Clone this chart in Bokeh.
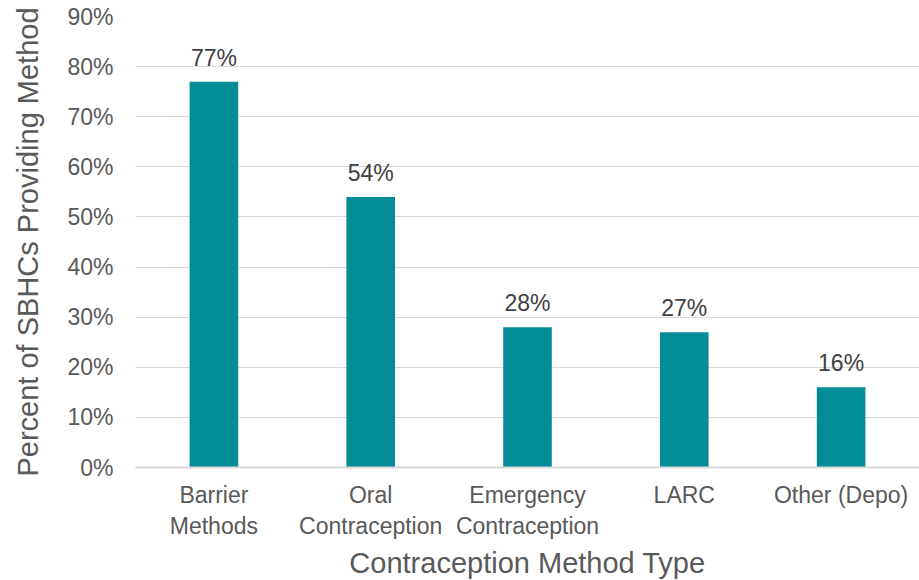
from bokeh.plotting import figure
from bokeh.models import ColumnDataSource, LabelSet, FixedTicker
from bokeh.core.properties import value
from bokeh.embed import file_html
from bokeh.resources import INLINE

categories = ["Barrier\nMethods", "Oral\nContraception", "Emergency\nContraception", "LARC", "Other (Depo)"]
values = [77, 54, 28, 27, 16]
labels = ["77%", "54%", "28%", "27%", "16%"]
y_ticks = [0, 10, 20, 30, 40, 50, 60, 70, 80, 90]

FONT = "Liberation Sans"
BAR = "#028C96"
GRID = "#D9D9D9"
TXT = "#595959"

source = ColumnDataSource(dict(cat=categories, val=values, lab=labels))

p = figure(x_range=categories, y_range=(0, 90), frame_width=784, frame_height=451,
           output_backend="svg", toolbar_location=None,
           min_border_left=135, min_border_right=0, min_border_top=16, min_border_bottom=112)

p.vbar(x="cat", top="val", width=0.31, source=source, color=BAR, line_color=None)

lbl = LabelSet(x="cat", y="val", text="lab", source=source, y_offset=11,
               text_align="center", text_baseline="bottom",
               text_font=value(FONT), text_font_size=value("23px"), text_color="#404040")
p.add_layout(lbl)

p.outline_line_color = None
p.background_fill_color = "white"
p.border_fill_color = "white"

p.xgrid.grid_line_color = None
p.ygrid.grid_line_color = GRID
p.ygrid.grid_line_width = 1

p.yaxis.ticker = FixedTicker(ticks=y_ticks)
p.yaxis.major_label_overrides = {t: f"{t}%" for t in y_ticks}
p.yaxis.axis_line_color = None
p.yaxis.major_tick_line_color = None
p.yaxis.minor_tick_line_color = None
p.yaxis.major_tick_out = 0
p.yaxis.major_label_standoff = 22
p.yaxis.axis_label = "Percent of SBHCs Providing Method"
p.yaxis.axis_label_standoff = 20

p.xaxis.axis_line_color = GRID
p.xaxis.axis_line_width = 2
p.xaxis.major_tick_line_color = None
p.xaxis.minor_tick_line_color = None
p.xaxis.major_tick_out = 0
p.xaxis.major_label_standoff = 14
p.xaxis.axis_label = "Contraception Method Type"
p.xaxis.axis_label_standoff = 5

for ax in (p.xaxis, p.yaxis):
    ax.major_label_text_font = FONT
    ax.major_label_text_font_size = "23px"
    ax.major_label_text_color = TXT
    ax.axis_label_text_font = FONT
    ax.axis_label_text_font_size = "29px"
    ax.axis_label_text_font_style = "normal"
    ax.axis_label_text_color = TXT

p.x_range.range_padding = 0

open("out.html", "w").write(file_html(p, INLINE))
